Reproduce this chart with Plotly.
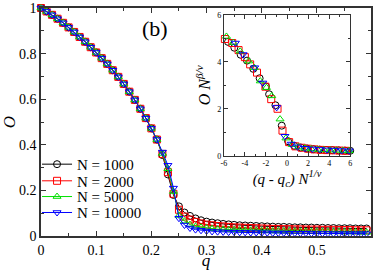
import plotly.graph_objects as go

# ---------------- data ----------------
labels = ["N = 1000", "N = 2000", "N = 5000", "N = 10000"]
colors = ["#000000", "#ff0000", "#00e000", "#0000ff"]
symbols = ["circle-open", "square-open", "triangle-up-open", "triangle-down-open"]

q = [0.00, 0.01, 0.02, 0.03, 0.04, 0.05, 0.06, 0.07, 0.08, 0.09,
     0.10, 0.11, 0.12, 0.13, 0.14, 0.15, 0.16, 0.17, 0.18, 0.19,
     0.20, 0.21, 0.22, 0.23, 0.24, 0.25, 0.26, 0.27, 0.28, 0.29,
     0.30, 0.31, 0.32, 0.33, 0.34, 0.35, 0.36, 0.37, 0.38, 0.39,
     0.40, 0.41, 0.42, 0.43, 0.44, 0.45, 0.46, 0.47, 0.48, 0.49,
     0.50, 0.51, 0.52, 0.53, 0.54, 0.55, 0.56, 0.57, 0.58, 0.59]

O_common = [1.0, 0.985, 0.97, 0.953, 0.935, 0.915, 0.895, 0.873, 0.852, 0.828,
            0.805, 0.78, 0.755, 0.727, 0.698, 0.667, 0.633, 0.597, 0.558, 0.517,
            0.472, 0.423]

O_1000_tail = [0.355, 0.27, 0.18, 0.13, 0.103, 0.088, 0.077, 0.069, 0.063, 0.059,
               0.056, 0.053, 0.051, 0.049, 0.047, 0.046, 0.045, 0.044, 0.043, 0.042,
               0.041, 0.040, 0.040, 0.039, 0.038, 0.038, 0.037, 0.037, 0.036, 0.036,
               0.035, 0.035, 0.034, 0.034, 0.034, 0.033, 0.033, 0.033]
O_2000_tail = [0.36, 0.28, 0.185, 0.115, 0.085, 0.072, 0.062, 0.055, 0.050, 0.047,
               0.044, 0.042, 0.040, 0.038, 0.037, 0.036, 0.035, 0.034, 0.033, 0.032,
               0.031, 0.031, 0.030, 0.030, 0.029, 0.029, 0.028, 0.028, 0.028, 0.027,
               0.027, 0.027, 0.026, 0.026, 0.026, 0.025, 0.025, 0.025]
O_5000_tail = [0.362, 0.295, 0.195, 0.09, 0.065, 0.05, 0.042, 0.038, 0.035, 0.032,
               0.030, 0.029, 0.028, 0.027, 0.026, 0.025, 0.024, 0.024, 0.023, 0.023,
               0.022, 0.022, 0.021, 0.021, 0.020, 0.020, 0.020, 0.019, 0.019, 0.019,
               0.018, 0.018, 0.018, 0.017, 0.017, 0.017, 0.016, 0.016]
O_10000_tail = [0.368, 0.31, 0.21, 0.078, 0.048, 0.035, 0.028, 0.025, 0.022, 0.020,
                0.019, 0.018, 0.017, 0.017, 0.016, 0.016, 0.015, 0.015, 0.014, 0.014,
                0.013, 0.013, 0.013, 0.012, 0.012, 0.012, 0.012, 0.011, 0.011, 0.011,
                0.011, 0.010, 0.010, 0.010, 0.010, 0.010, 0.010, 0.010]

O_main = [O_common + O_1000_tail, O_common + O_2000_tail,
          O_common + O_5000_tail, O_common + O_10000_tail]

# inset: scaled data
xs_1000 = [-5.6, -5.0, -4.4, -3.8, -3.2, -2.6, -2.0, -1.7, -1.1, -0.5, 0.1, 0.7,
           1.3, 1.9, 2.5, 3.1, 3.7, 4.3, 4.9, 5.5, 6.0]
ys_1000 = [4.85, 4.6, 4.3, 4.05, 3.7, 3.3, 2.95, 2.62, 2.15, 1.28, 0.62, 0.42,
           0.35, 0.31, 0.28, 0.26, 0.25, 0.24, 0.23, 0.22, 0.21]
xs_2000 = [-5.9, -5.2, -4.6, -4.0, -3.5, -2.85, -2.05, -1.5, -0.9, -0.43, 0.2, 0.8,
           1.4, 2.0, 2.6, 3.2, 3.8, 4.4, 5.0, 5.6]
ys_2000 = [4.97, 4.8, 4.5, 4.2, 3.89, 3.54, 2.94, 2.41, 2.0, 1.07, 0.58, 0.4,
           0.34, 0.3, 0.27, 0.25, 0.24, 0.23, 0.22, 0.21]
xs_5000 = [-5.75, -5.1, -4.45, -3.64, -3.1, -2.54, -1.95, -1.45, -0.66, -0.1, 0.5, 1.1,
           1.7, 2.3, 2.9, 3.5, 4.1, 4.7, 5.3, 5.9]
ys_5000 = [5.08, 4.82, 4.45, 4.03, 3.75, 3.18, 2.9, 2.55, 1.56, 0.75, 0.47, 0.37,
           0.32, 0.29, 0.27, 0.25, 0.24, 0.23, 0.22, 0.21]
xs_10000 = [-6.1, -4.9, -4.17, -3.07, -2.3, -0.98, -0.2, 0.4, 1.0, 1.7, 2.4, 3.1,
            3.8, 4.5, 5.2, 5.9]
ys_10000 = [5.27, 4.8, 4.31, 3.75, 3.1, 2.06, 0.83, 0.5, 0.38, 0.32, 0.29, 0.27,
            0.25, 0.24, 0.22, 0.21]

inset_x = [xs_1000, xs_2000, xs_5000, xs_10000]
inset_y = [ys_1000, ys_2000, ys_5000, ys_10000]

main_xticks = [0, 0.1, 0.2, 0.3, 0.4, 0.5]
main_xticktext = ["0", "0.1", "0.2", "0.3", "0.4", "0.5"]
main_yticks = [0, 0.2, 0.4, 0.6, 0.8, 1.0]
main_yticktext = ["0", "0.2", "0.4", "0.6", "0.8", "1"]
inset_xticks = [-6, -4, -2, 0, 2, 4, 6]
inset_xticktext = ["-6", "-4", "-2", "0", "2", "4", "6"]
inset_yticks = [0, 2, 4, 6]
inset_yticktext = ["0", "2", "4", "6"]

# ---------------- figure ----------------
FONT = "Liberation Serif"
fig = go.Figure()

legend_ids = ["legend", "legend2", "legend3", "legend4"]
for i in range(4):
    fig.add_trace(go.Scatter(
        x=q, y=O_main[i], mode="lines+markers", name=labels[i],
        line=dict(color=colors[i], width=1),
        marker=dict(symbol=symbols[i], size=7, color=colors[i], line=dict(width=1)),
        cliponaxis=False, xaxis="x", yaxis="y", legend=legend_ids[i]))

for i in range(4):
    fig.add_trace(go.Scatter(
        x=inset_x[i], y=inset_y[i], mode="markers", showlegend=False,
        marker=dict(symbol=symbols[i], size=7, color=colors[i], line=dict(width=1)),
        cliponaxis=False, xaxis="x2", yaxis="y2"))

axis_common = dict(showline=True, mirror="allticks", linecolor="#333333",
                   ticks="inside", tickcolor="#333333", showgrid=False,
                   zeroline=False, tickmode="array")

# legend row centres (paper fraction of plot height)
legend_rows = [0.314, 0.241, 0.172, 0.102]
legend_layout = {}
for i, lid in enumerate(legend_ids):
    legend_layout[lid] = dict(x=-0.012, y=legend_rows[i], xanchor="left", yanchor="middle",
                              bgcolor="rgba(0,0,0,0)",
                              font=dict(size=15, family=FONT, color="black"),
                              itemwidth=30, borderwidth=0)

fig.update_layout(
    width=374, height=270,
    margin=dict(l=41, r=1, t=8, b=32),
    paper_bgcolor="white", plot_bgcolor="white",
    font=dict(family=FONT, color="black"),
    xaxis=dict(axis_common, range=[0, 0.598], domain=[0, 1],
               tickvals=main_xticks, ticktext=main_xticktext,
               ticklen=5, linewidth=1.5, tickwidth=1.2,
               tickfont=dict(size=14),
               minor=dict(ticks="inside", dtick=0.05, tick0=0, ticklen=3, tickcolor="#333333"),
               title=dict(text="<i>q</i>", font=dict(size=17), standoff=0)),
    yaxis=dict(axis_common, range=[0, 1.0], domain=[0, 1],
               tickvals=main_yticks, ticktext=main_yticktext,
               ticklen=5, linewidth=1.5, tickwidth=1.2,
               tickfont=dict(size=14),
               minor=dict(ticks="inside", dtick=0.1, tick0=0, ticklen=3, tickcolor="#333333"),
               title=dict(text="<i>O</i>", font=dict(size=17), standoff=4)),
    xaxis2=dict(axis_common, range=[-6, 6], domain=[0.554, 0.937], anchor="y2",
                tickvals=inset_xticks, ticktext=inset_xticktext,
                ticklen=4, linewidth=1, tickwidth=1,
                tickfont=dict(size=8),
                minor=dict(ticks="inside", dtick=1, tick0=0, ticklen=2, tickcolor="#333333"),
                title=dict(text="<i>(q - q<sub>c</sub>) N</i><sup><i>1/ν</i></sup>",
                           font=dict(size=15), standoff=4)),
    yaxis2=dict(axis_common, range=[0, 6], domain=[0.352, 0.970], anchor="x2",
                tickvals=inset_yticks, ticktext=inset_yticktext,
                ticklen=4, linewidth=1, tickwidth=1,
                tickfont=dict(size=8),
                minor=dict(ticks="inside", dtick=1, tick0=0, ticklen=2, tickcolor="#333333"),
                title=dict(text="<i>O N</i><sup><i>β/ν</i></sup>",
                           font=dict(size=16), standoff=2)),
    annotations=[dict(text="(b)", x=0.345, y=0.91, xref="paper", yref="paper",
                      xanchor="center", yanchor="middle",
                      showarrow=False, font=dict(size=22, family=FONT))],
    **legend_layout,
)

fig.write_html("out.html", config={"displayModeBar": False},
               post_script="document.body.style.margin='0';")
